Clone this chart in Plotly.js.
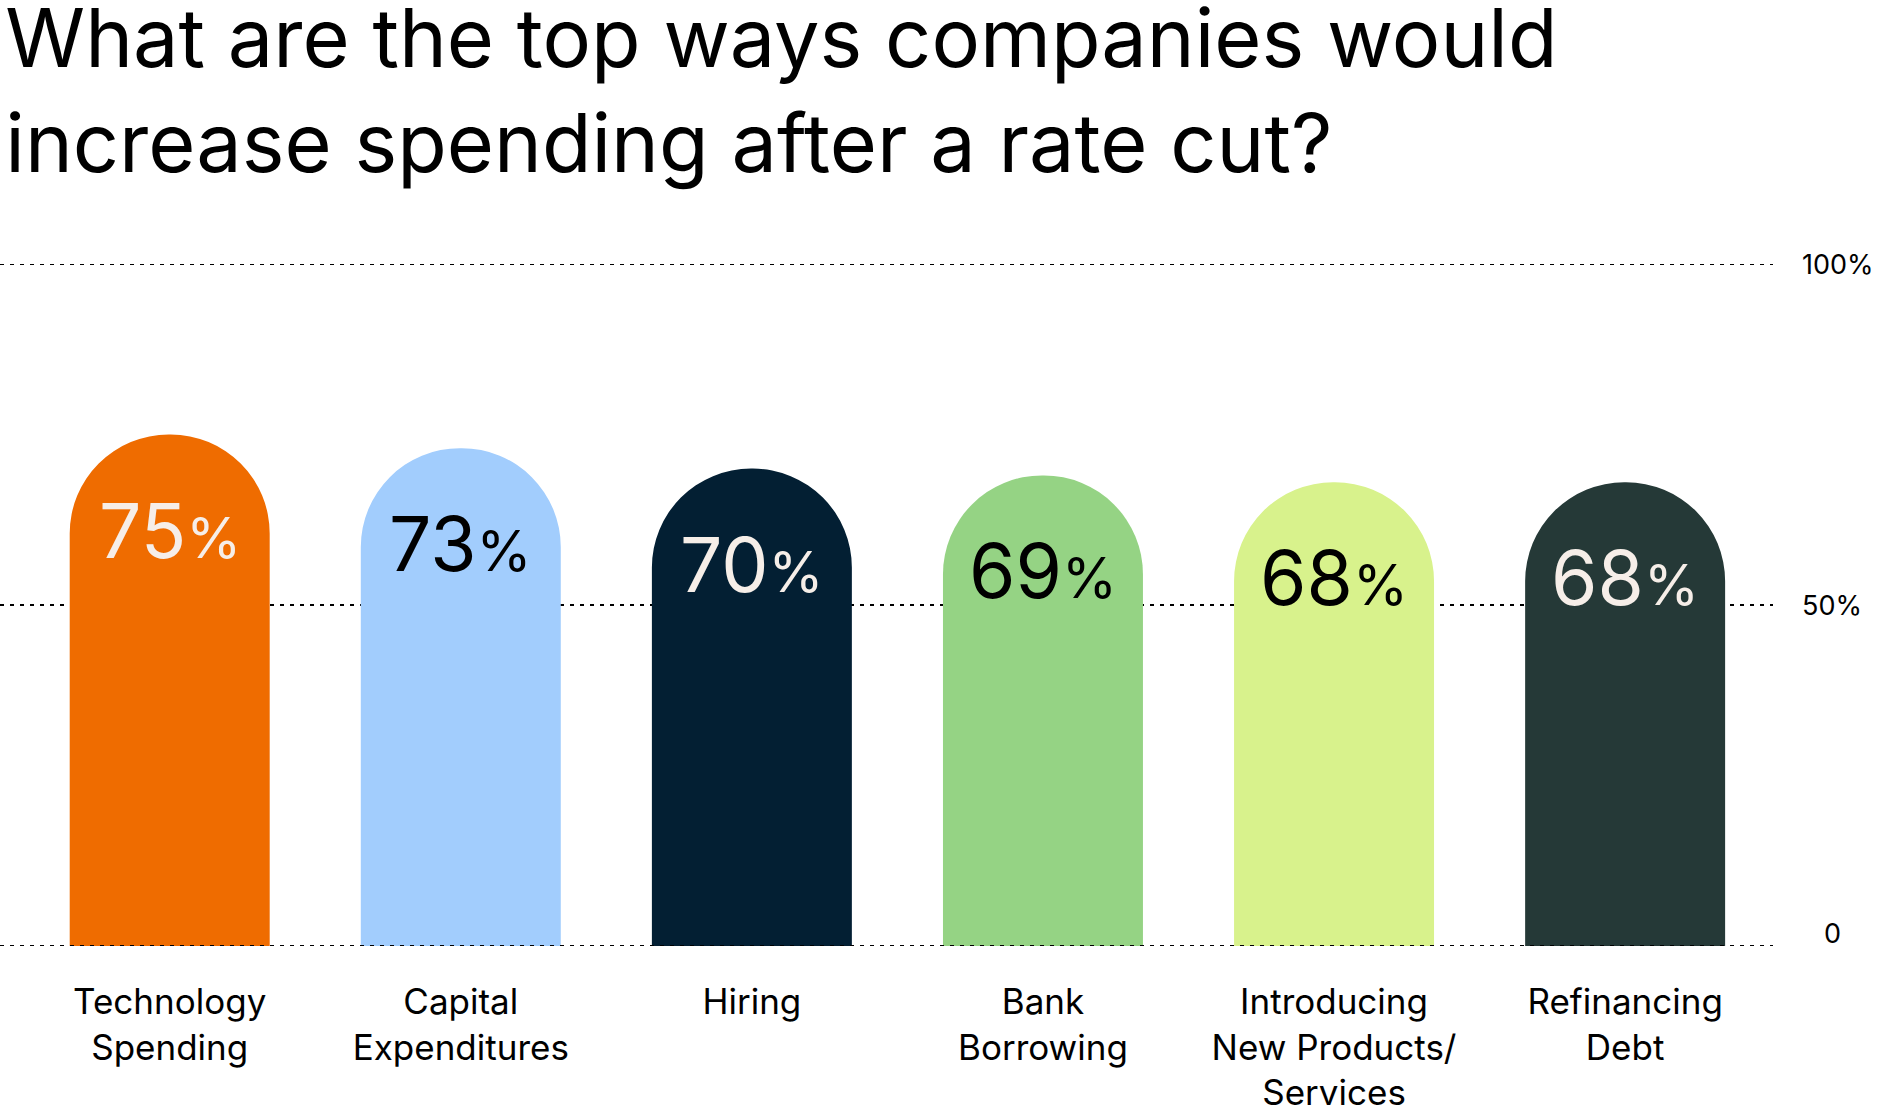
<!DOCTYPE html>
<html>
<head>
<meta charset="utf-8">
<script src="https://cdn.plot.ly/plotly-3.0.1.min.js"></script>
<style>html,body{margin:0;padding:0;background:#fff;}#chart{width:1878px;height:1110px;}</style>
</head>
<body>
<div id="chart"></div>
<script>
const categories = ["Technology<br>Spending", "Capital<br>Expenditures", "Hiring", "Bank<br>Borrowing", "Introducing<br>New Products/<br>Services", "Refinancing<br>Debt"];
const values = [75, 73, 70, 69, 68, 68];
const barColors = ["#EF6C00", "#A2CDFD", "#031F33", "#95D384", "#D8F28C", "#253937"];
const labelColors = ["#F6EEE8", "#000000", "#F6EEE8", "#000000", "#000000", "#F6EEE8"];
const yTickVals = [0, 50, 100];
const yTickText = ["0", "50%", "100%"];

const FONT = "Inter, 'Noto Sans', sans-serif";

const trace = {
  type: "bar",
  x: categories,
  y: values,
  width: 0.687,
  marker: {color: barColors, cornerradius: "50%", line: {width: 0}},
  hoverinfo: "skip"
};

const shapes = yTickVals.map(v => ({
  type: "line", xref: "paper", yref: "y", x0: 0, x1: 1, y0: v, y1: v,
  line: {color: "#000", width: 2, dash: "4px,6px"},
  layer: v === 0 ? "above" : "below"
}));

const annotations = [];
values.forEach((v, i) => {
  annotations.push({
    xref: "x", yref: "y", x: i, y: v, xanchor: "center", yanchor: "top",
    yshift: -48, showarrow: false,
    text: v + "<span style='font-size:56px'>%</span>",
    font: {family: FONT, size: 75, color: labelColors[i]}
  });
});
yTickVals.forEach((v, i) => {
  annotations.push({
    xref: "paper", yref: "y", x: 1, y: v, xanchor: "left", yanchor: "middle",
    xshift: v === 0 ? 49 : 27, yshift: v === 0 ? 13 : 0, showarrow: false,
    text: yTickText[i],
    font: {family: FONT, size: 27, color: "#000"}
  });
});

const layout = {
  width: 1878, height: 1110,
  margin: {l: 0, r: 105, t: 264, b: 164},
  paper_bgcolor: "#fff", plot_bgcolor: "#fff",
  showlegend: false,
  title: {
    text: "What are the top ways companies would<br>increase spending after a rate cut?",
    x: 0.003, xanchor: "left", xref: "paper", y: 0.9395, yanchor: "top", yref: "container",
    font: {family: FONT, size: 81, color: "#000"}
  },
  xaxis: {
    type: "category",
    range: [-0.583, 5.508],
    showgrid: false, zeroline: false, showline: false,
    ticks: "outside", ticklen: 25, tickcolor: "rgba(0,0,0,0)",
    tickfont: {family: FONT, size: 35, color: "#000"},
    fixedrange: true
  },
  yaxis: {
    range: [0, 100],
    showgrid: false, zeroline: false, showline: false,
    showticklabels: false, ticks: "",
    fixedrange: true
  },
  shapes: shapes,
  annotations: annotations
};

Plotly.newPlot("chart", [trace], layout, {displayModeBar: false, staticPlot: true});
</script>
</body>
</html>
